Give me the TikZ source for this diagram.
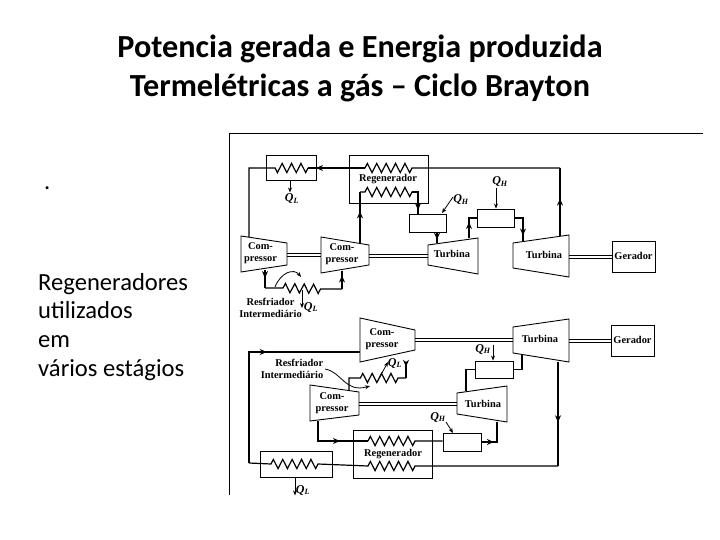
\documentclass[tikz,border=0pt]{standalone}
\usepackage{fontspec}
\setmainfont{Carlito}
\newfontfamily\schemfont{Liberation Serif}
\usetikzlibrary{arrows.meta, decorations.pathmorphing, decorations.markings}
\tikzset{
  wire/.style={line width=1.2pt, line join=miter},
  thin box/.style={draw, line width=0.9pt, inner sep=0pt},
  device/.style={draw, line width=0.9pt},
  shaft/.style={line width=0.9pt},
  heat/.style={line width=0.8pt, -{Stealth[length=5pt, width=4pt]}},
  coil/.style={decoration={zigzag, segment length=9.4pt, amplitude=4.6pt}},
  flow/.style={postaction={decorate, decoration={markings, mark=at position #1 with {\arrow{Stealth[length=7pt, width=6pt]}}}}},
  part/.style={font=\schemfont\bfseries\fontsize{10.4}{12}\selectfont, align=center, inner sep=0pt},
  qlabel/.style={font=\schemfont\bfseries\itshape\fontsize{12}{12}\selectfont, inner sep=0pt},
  slide/.style={font=\fontsize{24.6}{28}\selectfont, anchor=base west, inner sep=0pt},
  heading/.style={font=\bfseries\fontsize{32.2}{39}\selectfont, align=center, inner sep=0pt}
}
\begin{document}
\begin{tikzpicture}[x=1pt, y=-1pt]
\useasboundingbox (0,0) rectangle (720,540);
% slide text
\node[heading] (title) at (360,68) {Potencia gerada e Energia produzida\\Termelétricas a gás – Ciclo Brayton};
\node[slide] (dot) at (44,190) {.};
\node[slide] (side1) at (38,290) {Regeneradores};
\node[slide] (side2) at (38,318) {utilizados};
\node[slide] (side3) at (38,347) {em};
\node[slide] (side4) at (38,376) {vários estágios};
% frame of the scan
\coordinate (frameA) at (229,495);
\coordinate (frameB) at (229,133);
\coordinate (frameC) at (703,133);
\draw[line width=0.9pt] (frameA) -- (frameB) -- (frameC);

% upper cycle: boxes
\node[thin box, minimum width=50pt, minimum height=25pt] (coolerA) at (291,167.5) {};
\node[thin box, minimum width=79pt, minimum height=48pt] (regenA) at (388.5,179) {};
\node[thin box, minimum width=37pt, minimum height=18pt] (burnerA) at (427.5,223) {};
\node[thin box, minimum width=37pt, minimum height=18pt] (burnerB) at (495.5,218) {};
\node[thin box, minimum width=43pt, minimum height=31pt] (genA) at (633.5,256.5) {};
% upper cycle: machines
\draw[device] (241,236) -- (287,243) -- (287,265) -- (241,272) -- cycle;
\draw[device] (321,237) -- (369,245) -- (369,265) -- (321,273) -- cycle;
\draw[device] (428,245) -- (478,238) -- (478,274) -- (428,265) -- cycle;
\draw[device] (513,243) -- (569,235) -- (569,277) -- (513,268) -- cycle;
\node[part] (compA) at (260.5,253) {Com-\\pressor};
\node[part] (compB) at (342,254) {Com-\\pressor};
\node[part] (turbA) at (452,254) {Turbina};
\node[part] (turbB) at (544,255) {Turbina};
\node[part] (genAtext) at (633.5,256) {Gerador};
\node[part] (regenAtext) at (388,179) {Regenerador};
\node[part] (resfA) at (270.5,308) {Resfriador\\Intermediário};
% upper cycle: ports
\coordinate (turbBout) at (560,236);
\coordinate (topRight) at (560,168);
\coordinate (regenAhi) at (412,168);
\coordinate (regenAhl) at (365,168);
\coordinate (coilAr) at (308,168);
\coordinate (coilAl) at (275,168);
\coordinate (leftTop) at (249,168);
\coordinate (compAin) at (249,237);
\coordinate (compBout) at (360,243);
\coordinate (regenAlo) at (365,192);
\coordinate (regenAlr) at (412,192);
\coordinate (burnerAin) at (418,214);
\coordinate (burnerAout) at (437,232);
\coordinate (turbAin) at (437,243);
\coordinate (turbAout) at (469,238);
\coordinate (turbBin) at (523,242);
\coordinate (compAout) at (265,270);
\coordinate (coolAc) at (265,288);
\coordinate (coolAs) at (283,288);
\coordinate (coolAe) at (323,289);
\coordinate (compBin) at (342,271);
% upper cycle: wires
\draw[wire, flow=0.55] (turbBout) -- (topRight);
\draw[wire] (topRight) -- (regenAhi) decorate[coil] {-- (regenAhl)};
\draw[wire, flow=0.86] (regenAhl) -- (coilAr);
\draw[wire] (coilAr) decorate[coil] {-- (coilAl)} -- (leftTop) -- (compAin);
\draw[wire, flow=0.62] (compBout) -- (compBout |- regenAlo);
\draw[wire] (compBout |- regenAlo) -- (regenAlo) decorate[coil] {-- (regenAlr)};
\draw[wire, flow=0.86] (regenAlr) -| (burnerAin);
\draw[wire, flow=0.7] (burnerAout) -- (turbAin);
\draw[wire, flow=0.58] (turbAout) |- (burnerB.west);
\draw[wire, flow=0.8] (burnerB.east) -| (turbBin);
\draw[wire, flow=0.45] (compAout) -- (coolAc);
\draw[wire] (coolAc) -- (coolAs) decorate[coil] {-- (coolAe)} -- (compBin |- coolAe);
\draw[wire, flow=0.75] (compBin |- coolAe) -- (compBin);
% upper cycle: shafts
\draw[shaft] (287,253) -- (321,253) (287,256) -- (321,256);
\draw[shaft] (369,254) -- (428,254) (369,257) -- (428,257);
\draw[shaft] (569,255) -- (genA.west |- 0,255) (569,258) -- (genA.west |- 0,258);
% upper cycle: heat
\draw[heat] (coolerA.south) ++(-1,0) -- ++(0,12);
\node[qlabel] (qA) at (292,199) {Q\textsubscript{L}};
\draw[heat] (453,197) -- (442,213);
\node[qlabel] (qB) at (461,200) {Q\textsubscript{H}};
\draw[heat] (burnerB.north) ++(0.5,-21) -- ++(0,21);
\node[qlabel] (qC) at (500,182) {Q\textsubscript{H}};
\draw[heat] (302,290) -- (302,308);
\node[qlabel] (qD) at (311,307) {Q\textsubscript{L}};
\draw[heat] (275,287) .. controls (281,272) and (294,268) .. (301,277);

% lower cycle: boxes
\node[thin box, minimum width=72pt, minimum height=26pt] (coolerB) at (296,464) {};
\node[thin box, minimum width=79pt, minimum height=48pt] (regenB) at (392.5,454) {};
\node[thin box, minimum width=38pt, minimum height=18pt] (burnerC) at (462,442) {};
\node[thin box, minimum width=38pt, minimum height=17pt] (burnerD) at (494,369.5) {};
\node[thin box, minimum width=43pt, minimum height=31pt] (genB) at (632.5,340.5) {};
% lower cycle: machines
\draw[device] (360,318) -- (415,330) -- (415,350) -- (360,362) -- cycle;
\draw[device] (310,385) -- (359,392) -- (359,415) -- (310,421) -- cycle;
\draw[device] (513,327) -- (569,319) -- (569,362) -- (513,353) -- cycle;
\draw[device] (457,393) -- (507,386) -- (507,422) -- (457,414) -- cycle;
\node[part] (compC) at (382,339.5) {Com-\\pressor};
\node[part] (compD) at (332,403.5) {Com-\\pressor};
\node[part] (turbC) at (540,339) {Turbina};
\node[part] (turbD) at (483,404) {Turbina};
\node[part] (genBtext) at (632.5,340) {Gerador};
\node[part] (regenBtext) at (393,454) {Regenerador};
\node[part, align=right] (resfB) at (292,369) {Resfriador\\Intermediário};
% lower cycle: ports
\coordinate (compCin) at (360,352);
\coordinate (leftMid) at (249,352);
\coordinate (leftLow) at (249,463);
\coordinate (coilBl) at (271,464);
\coordinate (coilBr) at (318,464);
\coordinate (regenBll) at (368,466);
\coordinate (regenBlr) at (416,466);
\coordinate (lowRight) at (558,466);
\coordinate (turbCout) at (558,362);
\coordinate (compDout) at (318,421);
\coordinate (regenBul) at (368,441);
\coordinate (regenBur) at (416,441);
\coordinate (turbDin) at (497,422);
\coordinate (turbDout) at (466,391);
\coordinate (turbCin) at (522,354);
\coordinate (compCout) at (406,362);
\coordinate (coolBr) at (398,378);
\coordinate (coolBl) at (357,378);
\coordinate (compDin) at (349,390);
% lower cycle: wires
\draw[wire, flow=0.58] (leftLow) -- (leftMid) -- (compCin);
\draw[wire] (leftLow) -- (coilBl) decorate[coil] {-- (coilBr)} -- (regenBll) decorate[coil] {-- (regenBlr)} -- (lowRight);
\draw[wire, flow=0.58] (turbCout) -- (lowRight);
\draw[wire, flow=0.6] (compDout) |- (regenBul);
\draw[wire] (regenBul) decorate[coil] {-- (regenBur)} -- (burnerC.west |- regenBur);
\draw[wire, flow=0.35] (burnerC.east) -| (turbDin);
\draw[wire] (turbDout) |- (burnerD.west);
\draw[wire] (burnerD.east) -| (turbCin);
\draw[wire, flow=0.3] (compCout) -- (compCout |- coolBr);
\draw[wire] (compCout |- coolBr) -- (coolBr) decorate[coil] {-- (coolBl)} -- (compDin |- coolBl) -- (compDin);
% lower cycle: shafts
\draw[shaft] (415,338) -- (513,338) (415,341) -- (513,341);
\draw[shaft] (359,402) -- (457,402) (359,405) -- (457,405);
\draw[shaft] (569,339) -- (genB.west |- 0,339) (569,342) -- (genB.west |- 0,342);
% lower cycle: heat
\draw[heat] (377,382) -- (388,362);
\node[qlabel] (qE) at (395,363) {Q\textsubscript{L}};
\draw[heat] (burnerD.north) ++(-1,-16) -- ++(0,16);
\node[qlabel] (qF) at (483,349) {Q\textsubscript{H}};
\draw[heat] (446,422) -- (453,433);
\node[qlabel] (qG) at (438,417) {Q\textsubscript{H}};
\draw[heat] (coolerB.south) ++(-1,0) -- ++(0,18);
\node[qlabel] (qH) at (303,490) {Q\textsubscript{L}};
\draw[heat] (325,369) .. controls (342,372) and (345,393) .. (370,386);
% scan is cut off here
\fill[white] (229,495.5) rectangle (720,540);
\end{tikzpicture}
\end{document}
